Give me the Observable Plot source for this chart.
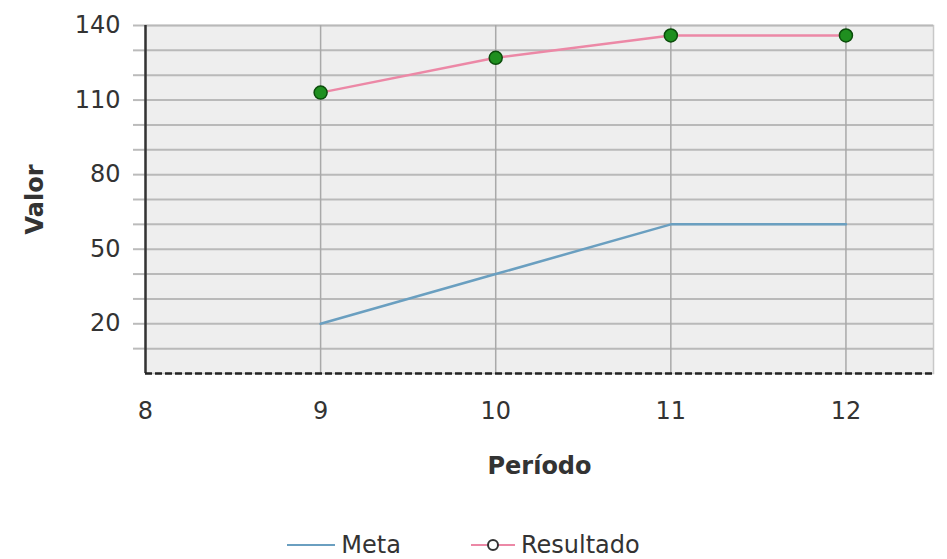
<!DOCTYPE html>
<html>
<head>
<meta charset="utf-8">
<script src="https://cdn.jsdelivr.net/npm/d3@7"></script>
<script src="https://cdn.jsdelivr.net/npm/@observablehq/plot@0.6"></script>
<style>
  html, body { margin: 0; padding: 0; background: #fff; }
  body { width: 947px; height: 559px; overflow: hidden; font-family: "DejaVu Sans", Tahoma, sans-serif; }
  #chart svg { display: block; }
  g[aria-label="y-axis label"] text, g[aria-label="x-axis label"] text { font-weight: bold; }
  #legend { display: flex; justify-content: center; align-items: center; gap: 70px; height: 27px; padding-top: 21px; font-size: 24px; color: #333; padding-right: 20px; }
  .item { display: flex; align-items: center; gap: 6px; }
</style>
</head>
<body>
<div id="chart"></div>
<div id="legend"></div>
<script>
const periods = [9, 10, 11, 12];
const meta = [20, 40, 60, 60];
const resultado = [113, 127, 136, 136];
const seriesNames = ["Meta", "Resultado"];
const seriesColors = ["#6a9fc0", "#ec88a6"];
const xTicks = [8, 9, 10, 11, 12];
const yLabelTicks = [20, 50, 80, 110, 140];
const yGridTicks = [10, 20, 30, 40, 50, 60, 70, 80, 90, 100, 110, 120, 130, 140];

const metaData = periods.map((p, i) => ({periodo: p, valor: meta[i]}));
const resData = periods.map((p, i) => ({periodo: p, valor: resultado[i]}));

const chart = Plot.plot({
  width: 947,
  height: 510,
  marginLeft: 145,
  marginRight: 14,
  marginTop: 25,
  marginBottom: 137,
  style: {fontFamily: "DejaVu Sans, Tahoma, sans-serif", fontSize: "23px", color: "#333"},
  x: {domain: [8, 12.5]},
  y: {domain: [0, 140]},
  marks: [
    Plot.frame({fill: "#eeeeee", stroke: "#c8c8c8", strokeWidth: 1.5}),
    Plot.gridY(yGridTicks, {stroke: "#b9b9b9", strokeOpacity: 1, strokeWidth: 2}),
    Plot.gridX(periods, {stroke: "#a9a9a9", strokeOpacity: 1, strokeWidth: 1.5}),
    Plot.axisY(yGridTicks, {
      tickSize: 12, tickPadding: 13, stroke: "#bbb", strokeWidth: 2,
      tickFormat: d => yLabelTicks.includes(d) ? String(d) : "",
      label: "Valor", labelArrow: "none", labelAnchor: "center", labelOffset: 120, fontSize: 24
    }),
    Plot.axisX(xTicks, {
      tickSize: 0, tickPadding: 28, fontSize: 24, tickFormat: d => String(d),
      label: "Período", labelArrow: "none", labelAnchor: "center", labelOffset: 100
    }),
    Plot.ruleX([8], {stroke: "#333", strokeWidth: 2.5}),
    Plot.ruleY([0], {stroke: "#222", strokeWidth: 2.5, strokeDasharray: "7,3"}),
    Plot.line(metaData, {x: "periodo", y: "valor", stroke: seriesColors[0], strokeWidth: 2.5}),
    Plot.line(resData, {x: "periodo", y: "valor", stroke: seriesColors[1], strokeWidth: 2.5}),
    Plot.dot(resData, {x: "periodo", y: "valor", r: 6.5, fill: "#1f8f1f", stroke: "#0b4d0b", strokeWidth: 1.5})
  ]
});
document.getElementById("chart").appendChild(chart);

const legend = document.getElementById("legend");
seriesNames.forEach((name, i) => {
  const item = document.createElement("div");
  item.className = "item";
  const sw = i === 0
    ? `<svg width="48" height="12"><line x1="0" y1="6" x2="48" y2="6" stroke="${seriesColors[i]}" stroke-width="2"/></svg>`
    : `<svg width="44" height="14"><line x1="0" y1="7" x2="44" y2="7" stroke="${seriesColors[i]}" stroke-width="2"/><circle cx="22" cy="7" r="5" fill="#fff" stroke="#333" stroke-width="2"/></svg>`;
  item.innerHTML = sw + `<span>${name}</span>`;
  legend.appendChild(item);
});
</script>
</body>
</html>
